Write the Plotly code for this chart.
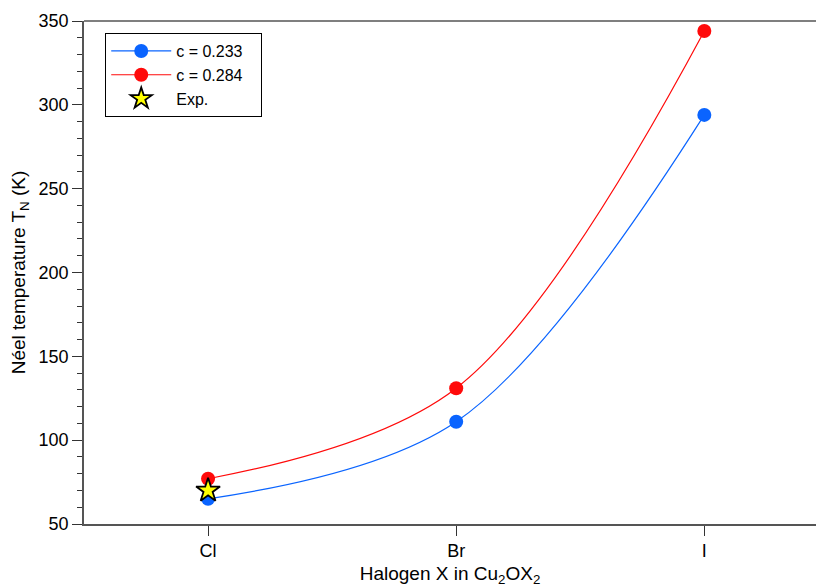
import plotly.graph_objects as go

categories = ["Cl", "Br", "I"]
tn_c0233 = [65, 111, 294]
tn_c0284 = [77, 131, 344]
exp_cat = ["Cl"]
exp_tn = [70]

xpos = {c: i for i, c in enumerate(categories)}
x_all = [xpos[c] for c in categories]
x_exp = [xpos[c] for c in exp_cat]

BLUE = "#0a64ff"
RED = "#ff0a0a"
FONT = "Liberation Sans, Arial, sans-serif"

fig = go.Figure()
fig.add_trace(go.Scatter(
    x=x_all, y=tn_c0233, mode="lines+markers", name="c = 0.233\u00a0\u00a0\u00a0",
    line=dict(color=BLUE, width=1.2, shape="spline", smoothing=1.0),
    marker=dict(color=BLUE, size=14)))
fig.add_trace(go.Scatter(
    x=x_all, y=tn_c0284, mode="lines+markers", name="c = 0.284\u00a0\u00a0\u00a0",
    line=dict(color=RED, width=1.2, shape="spline", smoothing=1.0),
    marker=dict(color=RED, size=14)))
fig.add_trace(go.Scatter(
    x=x_exp, y=exp_tn, mode="markers", name="Exp.",
    marker=dict(symbol="star", color="#ffff00", size=18,
                line=dict(color="black", width=1.8))))

fig.update_layout(
    width=816, height=587,
    margin=dict(l=84, r=0, t=21, b=63),
    paper_bgcolor="white", plot_bgcolor="white",
    font=dict(family=FONT, size=17, color="black"),
    showlegend=True,
    legend=dict(x=0.029, y=0.976, xanchor="left", yanchor="top",
                bordercolor="black", borderwidth=1, bgcolor="white",
                font=dict(size=16), tracegroupgap=0, itemwidth=60),
    xaxis=dict(
        range=[-0.5, 2.45], tickmode="array", tickvals=x_all, ticktext=categories,
        showgrid=False, zeroline=False, showline=True, linecolor="#555555", linewidth=1.5,
        mirror=False, ticks="outside", ticklen=10, tickcolor="#333333", tickwidth=1.2,
        tickfont=dict(size=18),
        title=dict(text="Halogen X in Cu<sub>2</sub>OX<sub>2</sub>", font=dict(size=19), standoff=12),
    ),
    yaxis=dict(
        range=[50, 350], tickvals=[50, 100, 150, 200, 250, 300, 350],
        showgrid=False, zeroline=False, showline=True, linecolor="#555555", linewidth=1.5,
        mirror=False, ticks="outside", ticklen=10, tickcolor="#333333", tickwidth=1.2,
        tickfont=dict(size=18),
        minor=dict(dtick=10, ticks="outside", ticklen=5, tickcolor="#333333", tickwidth=1.2),
        title=dict(text="Néel temperature T<sub>N</sub> (K)", font=dict(size=19), standoff=8),
    ),
    shapes=[dict(type="line", xref="paper", yref="paper", x0=0, x1=1, y0=1, y1=1,
                 line=dict(color="#555555", width=1.5), layer="above")],
)

fig.write_html(
    "out.html",
    config={"displayModeBar": False},
    post_script="document.body.style.margin='0px';document.body.style.overflow='hidden';",
)
